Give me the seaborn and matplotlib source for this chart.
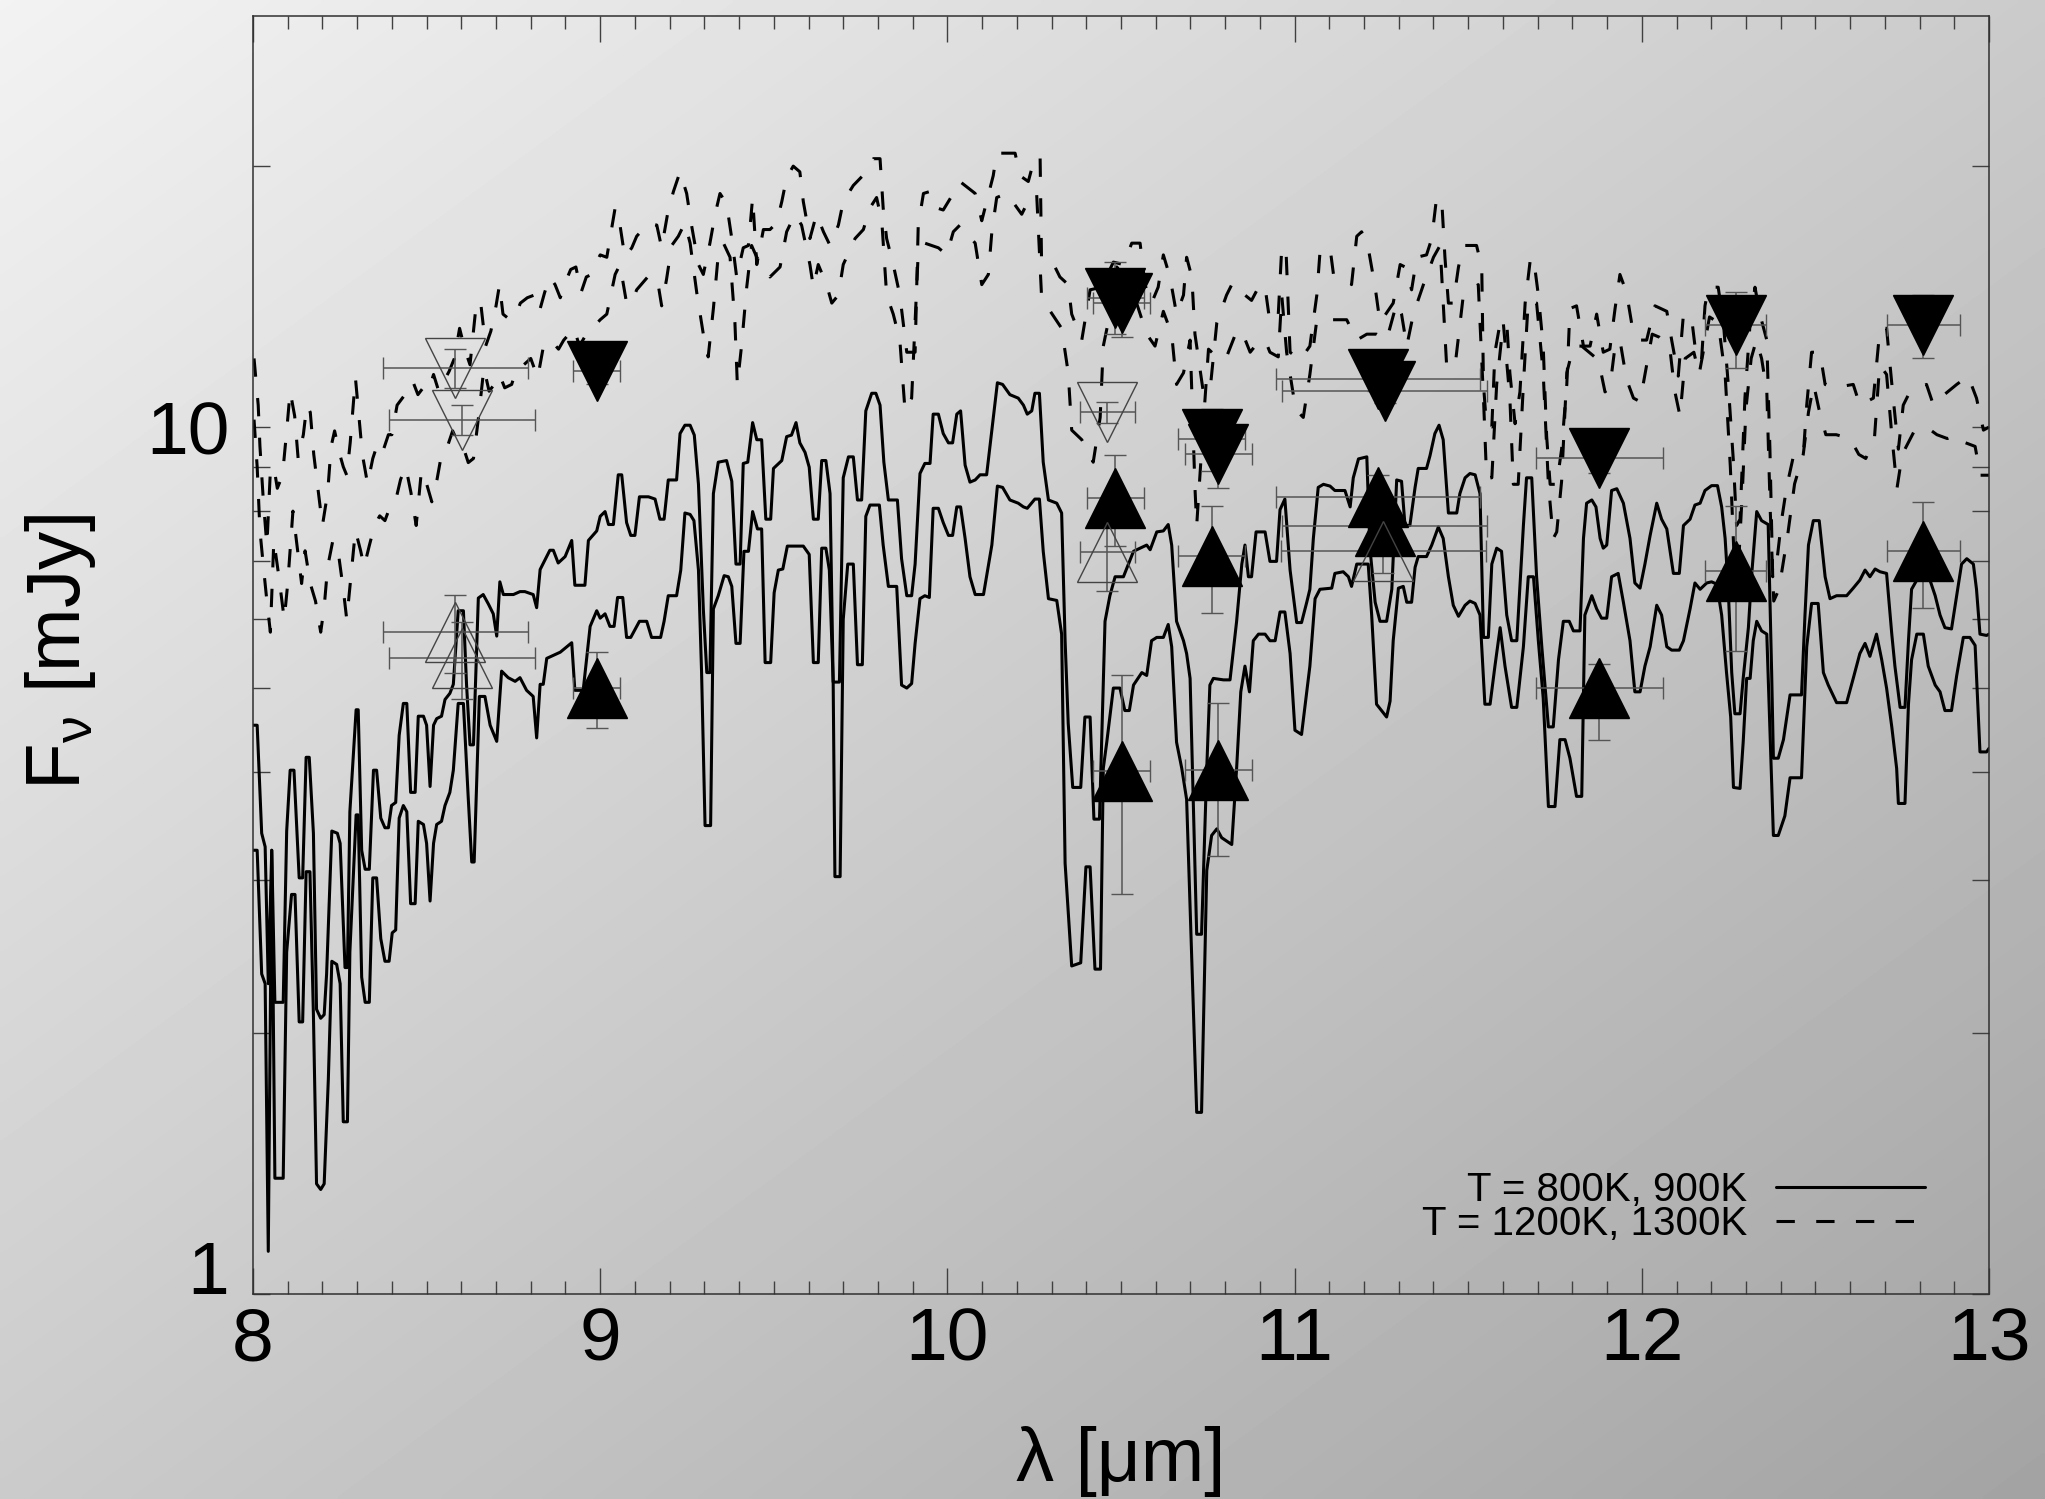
import numpy as np
import pandas as pd
import matplotlib
matplotlib.use("Agg")
import matplotlib.pyplot as plt
import seaborn as sns
from matplotlib.ticker import MultipleLocator, LogLocator, NullFormatter, FixedLocator, FixedFormatter
from matplotlib.lines import Line2D

# ---------------- data (wavelength [um], flux [mJy]) ----------------
s1_points = [
(8.00,4.53),(8.012,4.53),(8.025,3.40),(8.035,3.28),(8.044,2.28),(8.054,3.25),(8.063,2.17),(8.087,2.17),(8.097,3.42),(8.107,4.02),(8.118,4.02),(8.133,3.02),(8.143,3.02),(8.153,4.16),(8.162,4.16),(8.174,3.40),(8.183,2.13),(8.195,2.08),(8.205,2.10),(8.212,2.34),(8.227,3.42),(8.243,3.40),(8.251,3.31),(8.265,2.38),(8.272,2.38),(8.279,3.60),(8.297,4.72),(8.303,4.72),(8.313,3.25),(8.323,3.09),(8.335,3.09),(8.347,4.02),(8.356,4.02),(8.368,3.54),(8.38,3.45),(8.39,3.45),(8.399,3.66),(8.411,3.69),(8.421,4.41),(8.433,4.80),(8.443,4.80),(8.454,3.79),(8.467,3.79),(8.476,4.64),(8.491,4.64),(8.50,4.53),(8.51,3.85),(8.52,4.53),(8.529,4.61),(8.543,4.64),(8.553,4.85),(8.567,4.93),(8.577,5.05),(8.591,6.14),(8.606,6.14),(8.615,5.05),(8.625,4.30),(8.635,4.30),(8.649,6.35),(8.663,6.41),(8.678,6.25),(8.692,6.09),(8.702,5.74),(8.711,6.63),(8.721,6.41),(8.75,6.41),(8.769,6.46),(8.783,6.46),(8.807,6.41),(8.817,6.19),(8.827,6.85),(8.855,7.21),(8.865,7.21),(8.879,6.97),(8.899,7.09),(8.918,7.40),(8.927,6.57),(8.956,6.57),(8.966,7.40),(8.99,7.59),
(9.0,7.89),(9.014,7.99),(9.024,7.72),(9.038,7.72),(9.052,8.81),(9.062,8.81),(9.076,7.76),(9.088,7.50),(9.10,7.50),(9.113,8.31),(9.139,8.31),(9.158,8.26),(9.172,7.83),(9.184,7.83),(9.196,8.69),(9.22,8.69),(9.23,9.83),(9.244,10.05),(9.259,10.05),(9.271,9.79),(9.283,8.59),(9.297,6.17),(9.307,5.21),(9.316,5.21),(9.326,8.38),(9.34,9.11),(9.364,9.15),(9.379,8.66),(9.391,6.95),(9.403,6.95),(9.412,9.08),(9.425,9.11),(9.439,10.12),(9.451,9.67),(9.465,9.67),(9.477,7.83),(9.491,7.83),(9.499,8.96),(9.523,9.15),(9.537,9.75),(9.551,9.79),(9.564,10.12),(9.575,9.59),(9.59,9.35),(9.602,8.99),(9.614,7.83),(9.628,7.83),(9.638,9.15),(9.65,9.15),(9.662,8.38),(9.671,5.08),(9.689,5.08),(9.70,8.74),(9.715,9.24),(9.729,9.24),(9.741,8.24),(9.753,8.24),(9.765,10.44),(9.782,10.94),(9.794,10.94),(9.806,10.6),(9.817,9.11),(9.83,8.24),(9.856,8.24),(9.868,7.05),(9.883,6.39),(9.897,6.39),(9.907,6.95),(9.921,8.84),(9.935,9.08),(9.95,9.08),(9.959,10.35),(9.974,10.35),(9.988,9.83),(10.003,9.59),(10.015,9.59),(10.027,10.35),(10.038,10.44),
(10.051,9.04),(10.065,8.64),(10.08,8.69),(10.094,8.81),(10.113,8.81),(10.128,9.92),(10.144,11.25),(10.159,11.2),(10.18,10.9),(10.204,10.8),(10.219,10.6),(10.23,10.35),(10.243,10.44),(10.252,10.94),(10.265,10.94),(10.276,9.11),(10.291,8.24),(10.315,8.17),(10.329,7.96),(10.339,5.67),(10.348,4.55),(10.361,3.84),(10.384,3.84),(10.396,4.63),(10.411,4.63),(10.422,3.53),(10.438,3.53),(10.454,5.97),(10.468,6.39),(10.483,6.72),(10.507,6.72),(10.536,7.19),(10.555,7.25),(10.574,7.31),(10.584,7.22),(10.603,7.57),(10.622,7.59),(10.636,7.72),(10.646,7.31),(10.66,5.97),(10.68,5.67),(10.689,5.48),(10.699,5.13),(10.708,3.72),(10.718,2.60),(10.732,2.60),(10.747,4.04),(10.756,5.04),(10.766,5.13),(10.795,5.11),(10.814,5.11),(10.833,5.97),(10.848,6.95),(10.857,7.31),(10.867,6.72),(10.876,6.72),(10.889,7.57),(10.915,7.57),(10.929,7.00),(10.948,7.00),(10.958,8.03),(10.972,8.26),(10.987,6.84),(11.006,5.95),(11.02,5.95),(11.035,6.28),
(11.044,6.50),(11.054,7.44),(11.068,8.52),(11.083,8.59),(11.102,8.55),(11.116,8.45),(11.145,8.45),(11.16,8.09),(11.169,8.74),(11.184,9.19),(11.208,9.24),(11.217,7.25),(11.232,6.28),(11.246,5.97),(11.265,5.97),(11.28,6.50),(11.294,8.69),(11.308,8.66),(11.318,7.70),(11.332,7.70),(11.347,8.52),(11.356,8.96),(11.38,8.96),(11.39,9.27),(11.404,9.83),(11.416,10.05),(11.428,9.67),(11.443,7.96),(11.467,7.96),(11.476,8.38),(11.491,8.74),(11.505,8.84),(11.52,8.81),(11.534,8.38),(11.544,5.72),(11.558,5.72),(11.568,6.95),(11.582,7.25),(11.596,7.19),(11.611,6.07),(11.625,5.67),(11.64,5.67),(11.659,7.70),(11.668,8.74),(11.683,8.74),(11.697,6.72),(11.712,5.58),(11.731,4.51),(11.745,4.51),(11.76,5.39),(11.774,5.97),(11.791,5.97),(11.803,5.82),(11.822,5.82),(11.832,7.44),(11.841,8.17),(11.856,8.24),(11.868,8.09),(11.88,7.44),(11.889,7.25),(11.899,7.31),(11.913,8.45),(11.928,8.49),(11.947,8.17),(11.966,7.44),(11.98,6.61),(11.995,6.52),(12.009,6.95),(12.024,7.50),
(12.043,8.17),(12.057,7.83),(12.072,7.63),(12.091,6.78),(12.108,6.78),(12.12,7.70),(12.139,7.83),(12.153,8.13),(12.168,8.17),(12.182,8.45),(12.201,8.56),(12.218,8.56),(12.23,8.09),(12.24,7.44),(12.249,6.50),(12.259,5.21),(12.268,4.67),(12.283,4.67),(12.292,5.13),(12.307,5.87),(12.316,6.72),(12.331,7.99),(12.345,7.80),(12.364,7.72),(12.374,5.21),(12.379,4.15),(12.393,4.15),(12.408,4.36),(12.427,4.91),(12.46,4.91),(12.47,6.07),(12.48,7.31),(12.494,7.80),(12.511,7.80),(12.528,6.72),(12.542,6.34),(12.561,6.39),(12.59,6.39),(12.609,6.52),(12.628,6.66),(12.643,6.84),(12.657,6.72),(12.672,6.86),(12.686,6.81),(12.705,6.78),(12.72,5.77),(12.729,5.30),(12.744,4.75),(12.758,4.75),(12.768,5.67),(12.777,6.50),(12.792,6.66),(12.811,6.72),(12.83,6.66),(12.845,6.39),(12.859,6.07),(12.873,5.87),(12.892,5.85),(12.907,6.39),(12.921,6.95),(12.936,7.05),(12.955,6.95),(12.964,6.50),(12.974,5.77),(12.993,5.75),(13.0,5.77)]

s2_points = [
(8.00,3.25),(8.012,3.25),(8.025,2.34),(8.035,2.28),(8.044,1.12),(8.054,3.25),(8.063,1.36),(8.087,1.36),(8.097,2.48),(8.111,2.89),(8.121,2.89),(8.133,2.06),(8.143,2.06),(8.153,3.07),(8.164,3.07),(8.174,2.10),(8.183,1.34),(8.195,1.32),(8.205,1.34),(8.217,1.77),(8.227,2.42),(8.241,2.40),(8.251,2.28),(8.26,1.58),(8.272,1.58),(8.279,2.48),(8.297,3.57),(8.303,3.57),(8.313,2.32),(8.323,2.17),(8.335,2.17),(8.345,3.02),(8.356,3.02),(8.368,2.57),(8.38,2.42),(8.392,2.42),(8.401,2.61),(8.411,2.63),(8.421,3.54),(8.433,3.66),(8.443,3.60),(8.454,2.82),(8.467,2.82),(8.476,3.51),(8.491,3.48),(8.50,3.31),(8.51,2.84),(8.52,3.31),(8.529,3.48),(8.543,3.51),(8.553,3.66),(8.567,3.79),(8.577,4.02),(8.591,4.80),(8.606,4.80),(8.62,3.73),(8.63,3.15),(8.637,3.15),(8.652,4.89),(8.668,4.89),(8.683,4.53),(8.702,4.34),(8.716,5.23),(8.735,5.14),(8.755,5.09),(8.769,5.14),(8.788,4.97),(8.807,4.89),(8.817,4.38),(8.827,5.05),(8.836,5.05),(8.846,5.41),(8.885,5.50),(8.918,5.64),(8.927,4.97),(8.951,4.97),(8.971,5.89),(8.99,6.14),
(9.0,6.02),(9.014,6.09),(9.028,5.89),(9.04,5.89),(9.05,6.36),(9.065,6.36),(9.076,5.72),(9.088,5.72),(9.113,5.97),(9.134,5.97),(9.148,5.72),(9.174,5.72),(9.184,5.97),(9.196,6.39),(9.22,6.39),(9.232,6.84),(9.244,7.96),(9.259,7.93),(9.27,7.80),(9.283,6.84),(9.292,5.21),(9.302,3.47),(9.318,3.47),(9.326,6.17),(9.34,6.39),(9.357,6.74),(9.369,6.72),(9.379,6.55),(9.391,5.63),(9.403,5.63),(9.414,7.19),(9.427,7.19),(9.439,7.99),(9.453,7.63),(9.465,7.63),(9.475,5.35),(9.491,5.35),(9.501,6.44),(9.513,6.84),(9.526,6.86),(9.539,7.29),(9.585,7.29),(9.602,7.13),(9.614,5.35),(9.628,5.35),(9.638,7.25),(9.65,7.25),(9.66,6.84),(9.671,5.08),(9.676,3.03),(9.691,3.03),(9.70,6.0),(9.713,6.95),(9.729,6.95),(9.741,5.32),(9.755,5.32),(9.765,7.89),(9.777,8.13),(9.804,8.13),(9.815,7.31),(9.83,6.55),(9.854,6.55),(9.868,5.04),(9.883,5.00),(9.897,5.06),(9.907,5.63),(9.921,6.34),(9.935,6.39),(9.948,6.36),(9.959,8.06),(9.974,8.06),(9.988,7.76),(10.003,7.50),(10.015,7.50),(10.027,8.09),(10.038,8.09),
(10.051,7.44),(10.065,6.72),(10.08,6.41),(10.104,6.41),(10.128,7.31),(10.144,8.55),(10.159,8.52),(10.18,8.24),(10.204,8.17),(10.219,8.09),(10.23,8.06),(10.252,8.26),(10.265,8.26),(10.276,7.19),(10.291,6.34),(10.315,6.31),(10.329,5.77),(10.339,3.14),(10.358,2.39),(10.384,2.41),(10.399,3.11),(10.411,3.11),(10.425,2.37),(10.441,2.37),(10.449,4.04),(10.459,4.33),(10.478,5.00),(10.497,5.00),(10.511,4.71),(10.524,4.71),(10.536,5.04),(10.56,5.21),(10.574,5.17),(10.588,5.67),(10.603,5.72),(10.622,5.72),(10.636,5.92),(10.646,5.58),(10.66,4.33),(10.675,4.04),(10.689,3.72),(10.704,2.43),(10.718,1.62),(10.732,1.62),(10.747,3.08),(10.761,3.38),(10.776,3.44),(10.79,3.36),(10.819,3.30),(10.833,4.04),(10.845,4.95),(10.857,5.30),(10.87,4.95),(10.881,5.67),(10.896,5.77),(10.915,5.77),(10.929,5.67),(10.944,5.67),(10.958,6.12),(10.972,6.12),(10.987,5.48),(11.001,4.47),(11.02,4.42),
(11.035,4.95),(11.044,5.30),(11.059,6.34),(11.073,6.50),(11.107,6.52),(11.116,6.78),(11.14,6.81),(11.155,6.72),(11.164,6.55),(11.179,6.95),(11.212,6.95),(11.222,6.07),(11.236,4.79),(11.265,4.63),(11.275,4.83),(11.284,5.67),(11.299,6.52),(11.313,6.55),(11.323,6.28),(11.337,6.28),(11.347,6.89),(11.356,7.09),(11.38,7.09),(11.395,7.31),(11.414,7.67),(11.428,7.44),(11.443,6.72),(11.457,6.23),(11.472,6.05),(11.491,6.23),(11.505,6.30),(11.52,6.26),(11.534,6.07),(11.548,4.79),(11.563,4.79),(11.577,5.30),(11.592,5.87),(11.606,5.30),(11.625,4.75),(11.64,4.75),(11.659,5.58),(11.673,6.72),(11.688,6.72),(11.702,5.67),(11.716,4.87),(11.731,3.65),(11.75,3.65),(11.764,4.36),(11.779,4.36),(11.793,4.15),(11.812,3.75),(11.827,3.75),(11.836,6.07),(11.856,6.39),(11.87,6.17),(11.884,6.02),(11.899,6.02),(11.913,6.72),(11.932,6.78),(11.947,6.28),(11.966,5.67),(11.98,4.95),(11.995,4.95),(12.009,5.30),(12.024,5.58),
(12.043,6.23),(12.057,6.07),(12.072,5.58),(12.086,5.53),(12.108,5.53),(12.12,5.67),(12.139,6.17),(12.153,6.61),(12.168,6.50),(12.187,6.61),(12.201,6.63),(12.216,6.59),(12.23,6.07),(12.244,5.21),(12.256,4.63),(12.264,3.84),(12.283,3.83),(12.292,4.33),(12.302,5.13),(12.312,5.13),(12.321,5.67),(12.331,5.97),(12.345,5.82),(12.36,5.77),(12.379,3.38),(12.393,3.38),(12.412,3.56),(12.427,3.94),(12.46,3.94),(12.475,5.58),(12.489,6.26),(12.508,6.26),(12.523,5.21),(12.537,5.04),(12.561,4.81),(12.59,4.81),(12.609,5.13),(12.628,5.48),(12.643,5.63),(12.657,5.44),(12.676,5.77),(12.691,5.39),(12.705,5.00),(12.72,4.51),(12.734,4.04),(12.739,3.68),(12.758,3.68),(12.768,4.79),(12.777,5.39),(12.792,5.77),(12.811,5.77),(12.825,5.30),(12.845,5.04),(12.859,4.95),(12.873,4.71),(12.892,4.71),(12.907,5.17),(12.926,5.72),(12.945,5.72),(12.96,5.60),(12.974,4.22),(12.993,4.22),(13.0,4.26)]

d1_points = [
(8.003,12.0),(8.015,10.6),(8.02,9.5),(8.03,8.2),(8.04,7.3),(8.05,8.9),(8.06,9.0),(8.07,8.5),(8.085,8.8),(8.097,9.9),(8.107,11.0),(8.12,10.3),(8.13,9.2),(8.145,9.8),(8.155,10.6),(8.165,10.4),(8.175,9.3),(8.19,8.3),(8.2,7.7),(8.215,8.4),(8.225,9.5),(8.235,9.9),(8.25,9.3),(8.26,9.0),(8.27,8.8),(8.28,9.6),(8.295,11.4),(8.305,10.3),(8.315,9.3),(8.33,8.6),(8.345,9.2),(8.36,9.6),(8.375,9.4),(8.39,9.8),(8.40,9.8),(8.415,10.6),(8.43,10.8),(8.445,11.0),(8.46,11.3),(8.475,10.9),(8.49,11.1),(8.505,11.0),(8.52,11.5),(8.535,11.0),(8.55,11.3),(8.565,11.6),(8.58,12.0),(8.595,13.0),(8.61,12.3),(8.625,11.8),(8.64,13.5),(8.655,14.0),(8.67,12.4),(8.685,12.9),(8.70,13.8),(8.71,14.6),(8.72,13.5),(8.74,13.3),(8.755,13.4),(8.77,13.9),(8.79,14.1),(8.81,14.2),(8.825,13.6),(8.84,14.3),(8.855,14.9),(8.87,14.6),(8.885,14.1),(8.90,14.7),(8.915,15.2),(8.93,15.3),(8.945,14.3),(8.96,14.9),(8.975,15.0),(8.99,15.5),
(9.0,15.8),(9.019,15.7),(9.043,17.9),(9.057,17.1),(9.071,15.7),(9.091,16.1),(9.105,16.6),(9.139,17.2),(9.163,17.1),(9.177,16.1),(9.196,17.8),(9.211,18.7),(9.23,19.7),(9.249,18.6),(9.263,17.1),(9.283,15.4),(9.297,15.0),(9.316,16.3),(9.331,17.6),(9.345,18.6),(9.364,18.1),(9.379,16.5),(9.393,14.9),(9.412,16.1),(9.427,16.2),(9.439,18.4),(9.451,15.4),(9.47,16.9),(9.489,16.9),(9.508,17.2),(9.523,18.2),(9.537,19.4),(9.556,20.0),(9.575,19.7),(9.585,18.2),(9.604,16.5),(9.623,17.6),(9.643,16.8),(9.662,16.2),(9.686,17.1),(9.70,18.2),(9.729,19.0),(9.767,19.7),(9.787,20.4),(9.806,20.4),(9.815,17.9),(9.825,16.5),(9.844,15.4),(9.863,14.2),(9.883,12.2),(9.907,12.2),(9.916,17.1),(9.931,18.6),(9.95,18.7),(9.969,17.9),(9.988,17.8),(10.017,18.6),(10.036,19.2),
(10.08,18.6),(10.099,17.3),(10.132,19.5),(10.142,20.7),(10.195,20.7),(10.209,19.5),(10.233,19.2),(10.252,20.5),(10.267,20.5),(10.271,15.7),(10.296,15.7),(10.324,14.9),(10.348,14.6),(10.358,13.5),(10.387,12.6),(10.411,14.4),(10.444,14.5),(10.478,15.5),(10.507,15.4),(10.531,16.3),(10.555,16.3),(10.569,14.6),(10.588,13.9),(10.607,14.5),(10.622,15.8),(10.641,14.9),(10.66,13.5),(10.68,14.2),(10.689,15.7),(10.704,14.9),(10.713,12.8),(10.737,10.98),(10.756,10.98),(10.776,13.2),(10.804,14.2),(10.819,14.6),(10.843,14.6),(10.857,14.2),(10.876,14.0),(10.9,14.6),(10.915,14.5),(10.929,13.2),(10.953,13.5),(10.963,16.1),(10.975,16.1),(10.982,13.7),(10.987,12.2),
(11.016,11.95),(11.044,12.4),(11.064,14.2),(11.073,15.9),(11.102,16.1),(11.112,15.0),(11.145,14.9),(11.164,14.6),(11.179,16.6),(11.193,16.8),(11.212,16.1),(11.232,14.5),(11.246,13.2),(11.284,13.9),(11.304,15.4),(11.318,15.3),(11.337,14.4),(11.352,15.7),(11.38,15.8),(11.395,16.5),(11.409,18.4),(11.424,18.2),(11.433,15.7),(11.443,13.9),(11.457,13.9),(11.472,15.3),(11.486,16.2),(11.524,16.2),(11.539,15.3),(11.544,11.2),(11.553,10.0),(11.568,10.0),(11.577,12.2),(11.592,13.2),(11.611,13.2),(11.62,11.55),(11.635,10.09),(11.649,10.98),(11.664,13.9),(11.678,15.5),(11.688,15.7),(11.702,14.2),(11.716,12.4),(11.726,9.75),(11.736,8.59),(11.755,8.59),(11.769,9.43),(11.784,11.2),(11.793,13.7),(11.812,13.8),(11.832,12.4),(11.851,12.4),(11.87,13.5),(11.889,12.2),(11.908,12.3),(11.923,13.7),(11.937,15.0),(11.956,14.3),(11.976,12.8),(11.995,12.6),
(12.014,12.6),(12.038,13.8),(12.072,13.6),(12.086,12.6),(12.105,11.45),(12.12,13.5),(12.144,13.3),(12.158,11.95),(12.172,11.95),(12.182,13.8),(12.192,14.5),(12.22,14.5),(12.235,13.2),(12.249,11.2),(12.264,9.11),(12.273,7.70),(12.283,7.83),(12.297,10.8),(12.312,13.2),(12.326,14.5),(12.34,13.5),(12.36,12.6),(12.369,9.43),(12.377,6.72),(12.388,6.95),(12.403,7.83),(12.417,8.52),(12.437,9.27),(12.465,9.27),(12.475,10.6),(12.489,12.2),(12.513,12.2),(12.528,11.2),(12.552,11.1),(12.609,11.2),(12.628,10.6),(12.667,10.8),(12.686,13.0),(12.705,13.0),(12.724,10.8),(12.739,9.43),(12.753,10.6),(12.772,10.98),(12.82,11.2),(12.84,10.6),(12.859,10.8),(12.907,11.2),(12.94,11.45),(12.964,10.8),(12.984,9.92),(13.0,10.0)]

d2_points = [
(8.003,10.2),(8.012,9.0),(8.02,7.6),(8.03,6.9),(8.04,6.3),(8.05,5.8),(8.06,7.4),(8.075,6.7),(8.09,6.0),(8.1,6.6),(8.115,8.0),(8.125,7.4),(8.14,6.6),(8.15,7.2),(8.165,6.6),(8.18,6.3),(8.195,5.8),(8.205,6.2),(8.215,6.9),(8.23,7.4),(8.245,7.2),(8.26,6.5),(8.27,6.0),(8.28,6.6),(8.295,7.6),(8.31,7.2),(8.32,6.9),(8.335,7.3),(8.35,7.7),(8.365,7.9),(8.38,7.8),(8.395,8.1),(8.41,8.2),(8.425,8.7),(8.44,9.0),(8.455,8.4),(8.47,7.7),(8.485,8.9),(8.5,8.6),(8.515,8.2),(8.53,8.7),(8.545,9.4),(8.56,9.5),(8.575,9.9),(8.59,9.6),(8.605,9.5),(8.62,9.1),(8.635,9.2),(8.65,10.3),(8.665,11.7),(8.68,11.0),(8.695,11.2),(8.71,11.5),(8.725,11.1),(8.745,11.2),(8.76,11.7),(8.78,11.8),(8.80,12.0),(8.82,11.4),(8.835,12.3),(8.85,12.6),(8.865,12.5),(8.88,12.3),(8.895,12.6),(8.91,12.8),(8.925,13.0),(8.94,12.4),(8.955,12.7),(8.97,12.9),(8.985,13.1),
(9.0,13.3),(9.019,13.5),(9.043,15.0),(9.057,15.4),(9.076,13.9),(9.091,13.9),(9.105,14.4),(9.143,15.0),(9.167,14.6),(9.177,13.8),(9.191,14.8),(9.206,16.2),(9.225,16.6),(9.244,17.2),(9.259,16.3),(9.278,14.3),(9.297,12.8),(9.311,12.05),(9.326,13.7),(9.34,15.8),(9.355,16.3),(9.374,15.7),(9.388,13.2),(9.395,11.2),(9.407,12.4),(9.422,14.5),(9.436,16.2),(9.451,15.7),(9.489,14.9),(9.518,15.3),(9.537,16.8),(9.561,17.6),(9.58,17.1),(9.604,15.4),(9.614,14.5),(9.628,15.4),(9.652,14.6),(9.667,13.9),(9.686,14.2),(9.70,15.4),(9.734,16.5),(9.758,16.9),(9.777,17.9),(9.796,18.4),(9.811,17.3),(9.825,14.2),(9.844,13.5),(9.863,12.6),(9.878,10.44),(9.897,10.8),(9.907,13.2),(9.916,15.9),(9.935,16.3),(9.974,16.1),(9.998,15.8),(10.017,16.8),(10.036,17.1),
(10.08,16.3),(10.099,14.6),(10.118,15.0),(10.128,16.8),(10.142,18.4),(10.171,18.6),(10.214,17.6),(10.238,18.4),(10.257,18.6),(10.271,14.2),(10.286,13.8),(10.329,13.0),(10.348,11.55),(10.358,9.92),(10.387,9.67),(10.42,9.11),(10.44,10.26),(10.449,12.4),(10.468,13.5),(10.488,15.3),(10.526,14.6),(10.545,13.9),(10.574,12.8),(10.598,12.4),(10.622,13.6),(10.646,12.8),(10.66,11.2),(10.68,11.55),(10.699,12.6),(10.713,8.52),(10.718,7.70),(10.737,10.09),(10.752,12.3),(10.785,11.95),(10.804,12.05),(10.833,12.9),(10.848,12.9),(10.872,12.2),(10.886,12.4),(10.915,12.6),(10.929,12.2),(10.953,12.05),(10.963,14.2),(10.977,12.2),(11.001,10.6),(11.016,10.35),(11.025,10.26),
(11.044,11.5),(11.064,13.3),(11.121,13.3),(11.15,13.3),(11.179,12.6),(11.208,12.8),(11.236,12.8),(11.265,12.6),(11.294,13.9),(11.308,13.5),(11.323,12.4),(11.342,13.5),(11.371,14.6),(11.4,15.7),(11.419,16.2),(11.438,11.75),(11.462,11.75),(11.486,14.2),(11.529,14.6),(11.544,10.8),(11.553,8.74),(11.568,8.74),(11.582,11.2),(11.601,13.2),(11.62,10.8),(11.63,8.59),(11.644,8.59),(11.659,11.2),(11.673,14.0),(11.697,13.9),(11.716,11.55),(11.731,8.59),(11.745,7.44),(11.755,7.57),(11.769,8.66),(11.784,11.55),(11.803,12.4),(11.827,12.4),(11.875,11.95),(11.894,10.98),(11.908,11.1),(11.923,12.4),(11.937,12.6),(11.956,11.35),(11.976,10.8),(11.995,10.7),
(12.009,11.5),(12.03,12.8),(12.05,12.7),(12.08,12.4),(12.095,11.0),(12.11,10.3),(12.125,12.0),(12.15,12.2),(12.165,11.5),(12.18,12.4),(12.195,13.4),(12.22,13.2),(12.24,11.5),(12.255,9.0),(12.265,7.2),(12.275,6.5),(12.29,8.5),(12.30,10.5),(12.315,12.0),(12.33,12.6),(12.345,12.0),(12.36,11.0),(12.37,8.0),(12.38,6.3),(12.395,6.5),(12.42,7.5),(12.44,8.6),(12.465,9.3),(12.48,10.4),(12.495,11.2),(12.51,10.5),(12.53,9.8),(12.56,9.8),(12.6,9.7),(12.625,9.3),(12.645,9.2),(12.67,9.7),(12.685,11.8),(12.705,11.5),(12.72,9.8),(12.735,8.5),(12.75,9.3),(12.785,9.9),(12.82,10.0),(12.85,9.8),(12.88,9.7),(12.91,9.8),(12.93,9.6),(12.96,9.5),(12.975,8.8),(13.0,8.8)]

# photometry: filled downward triangles
fd_wl   = [8.99, 10.483, 10.502, 10.761, 10.78, 11.24, 11.26, 11.878, 12.27, 12.811]
fd_flux = [11.6, 14.1, 13.9, 9.7, 9.3, 11.36, 11.0, 9.2, 13.1, 13.1]
fd_xerr = [0.068, 0.082, 0.082, 0.096, 0.096, 0.295, 0.295, 0.183, 0.089, 0.106]
fd_ylo  = [0.4, 1.3, 1.2, 0.8, 0.8, 0.35, 0.35, 0.35, 1.4, 1.1]
fd_yhi  = [0.4, 1.4, 1.3, 0.8, 0.8, 0.35, 0.35, 0.35, 1.2, 1.1]
# filled upward triangles
fu_wl   = [8.99, 10.483, 10.502, 10.761, 10.78, 11.24, 11.26, 11.878, 12.27, 12.811]
fu_flux = [5.0, 8.29, 4.01, 7.1, 4.02, 8.3, 7.7, 5.0, 6.82, 7.19]
fu_xerr = [0.068, 0.082, 0.082, 0.096, 0.096, 0.295, 0.295, 0.183, 0.089, 0.106]
fu_ylo  = [0.5, 1.0, 1.12, 1.0, 0.82, 0.5, 0.5, 0.64, 1.3, 1.0]
fu_yhi  = [0.5, 1.0, 1.16, 1.0, 0.79, 0.5, 0.5, 0.33, 1.3, 1.0]
# open downward triangles
od_wl   = [8.582, 8.602, 10.461]
od_flux = [11.7, 10.2, 10.4]
od_xerr = [0.209, 0.21, 0.079]
od_yerr = [0.6, 0.4, 0.3]
# open upward triangles
ou_wl   = [8.582, 8.602, 10.461, 11.255]
ou_flux = [5.81, 5.41, 7.17, 7.19]
ou_xerr = [0.209, 0.21, 0.079, 0.295]
ou_yerr = [0.6, 0.55, 0.7, 0.4]

legend_labels = ["T = 800K, 900K", "T = 1200K, 1300K"]

# ---------------- style ----------------
sns.set_theme(style="ticks")
plt.rcParams["font.family"] = ["Liberation Sans", "DejaVu Sans"]
plt.rcParams["mathtext.fontset"] = "custom"
plt.rcParams["mathtext.rm"] = "Liberation Sans"
plt.rcParams["mathtext.it"] = "Liberation Sans:italic"
plt.rcParams["text.color"] = "black"
plt.rcParams["axes.labelcolor"] = "black"
plt.rcParams["xtick.labelcolor"] = "black"
plt.rcParams["ytick.labelcolor"] = "black"

W, H = 2045, 1499
fig = plt.figure(figsize=(W / 100, H / 100), dpi=100)

# gradient backdrop
bg = fig.add_axes([0, 0, 1, 1], zorder=-10)
gx, gy = np.meshgrid(np.linspace(0, 1, 400), np.linspace(0, 1, 300))
bg.imshow(0.95 - 0.155 * (gx + gy), cmap="gray", vmin=0, vmax=1, aspect="auto",
          extent=[0, 1, 0, 1], origin="upper", interpolation="bilinear")
bg.axis("off")

ax = fig.add_axes([253 / W, 1 - 1294 / H, (1989 - 253) / W, (1294 - 16) / H])
ax.set_facecolor("none")
ax.set_yscale("log")

dash = (0, (6.0, 7.0))
LW = 2.2
for pts, ls in [(s1_points, "-"), (s2_points, "-"), (d1_points, dash), (d2_points, dash)]:
    df = pd.DataFrame(pts, columns=["wl", "flux"])
    sns.lineplot(data=df, x="wl", y="flux", sort=False, estimator=None, ax=ax,
                 color="black", lw=LW, linestyle=ls, legend=False, zorder=2)

ecol = "#555555"
eb_kw = dict(ecolor=ecol, elinewidth=1.1, capsize=8, capthick=1.1, zorder=3, linestyle="none")
ax.errorbar(fd_wl, fd_flux, xerr=fd_xerr, yerr=[fd_ylo, fd_yhi], fmt="v", ms=43,
            mfc="black", mec="black", mew=1, **eb_kw)
ax.errorbar(fu_wl, fu_flux, xerr=fu_xerr, yerr=[fu_ylo, fu_yhi], fmt="^", ms=43,
            mfc="black", mec="black", mew=1, **eb_kw)
ax.errorbar(od_wl, od_flux, xerr=od_xerr, yerr=od_yerr, fmt="v", ms=43,
            mfc="none", mec="#444444", mew=1.0, **eb_kw)
ax.errorbar(ou_wl, ou_flux, xerr=ou_xerr, yerr=ou_yerr, fmt="^", ms=43,
            mfc="none", mec="#444444", mew=1.0, **eb_kw)

ax.set_xlim(8, 13)
ax.set_ylim(1, 29.8)
ax.xaxis.set_major_locator(MultipleLocator(1))
ax.xaxis.set_minor_locator(MultipleLocator(0.1))
ax.yaxis.set_major_locator(FixedLocator([1, 10]))
ax.yaxis.set_major_formatter(FixedFormatter(["1", "10"]))
ax.yaxis.set_minor_locator(LogLocator(base=10, subs=np.arange(2, 10)))
ax.yaxis.set_minor_formatter(NullFormatter())
ax.tick_params(which="both", direction="in", top=True, right=True, color="#404040", width=1.0,
               labelcolor="black")
ax.tick_params(axis="x", which="major", length=18.7, labelsize=54, pad=9)
ax.tick_params(axis="x", which="minor", length=9.4)
ax.tick_params(axis="y", which="both", length=12.2)
ax.tick_params(axis="y", which="major", labelsize=54, pad=17)
for sp in ax.spines.values():
    sp.set_color("#303030")
    sp.set_linewidth(1.1)
ax.set_xlabel("")
ax.set_ylabel("")
# the "1" label sits above its tick, its baseline on the bottom axis
ax.yaxis.get_major_ticks()[0].label1.set_verticalalignment("baseline")

fig.text(1121 / W, 1 - 1481 / H, "λ [μm]", ha="center", va="baseline", fontsize=55)
fig.text(61 / W, 1 - 652 / H, r"F$_{\mathrm{\nu}}$ [mJy]", rotation=90, ha="center", va="center", fontsize=55)

handles = [Line2D([], [], color="black", lw=LW, ls="-"),
           Line2D([], [], color="black", lw=LW, ls=dash)]
ax.legend(handles, legend_labels, loc="lower right", bbox_to_anchor=(0.963, 0.04),
          frameon=False, markerfirst=False, fontsize=29, handlelength=3.7,
          handletextpad=0.7, labelspacing=-0.1, borderpad=0, borderaxespad=0)

fig.savefig("out.png", dpi=100)
